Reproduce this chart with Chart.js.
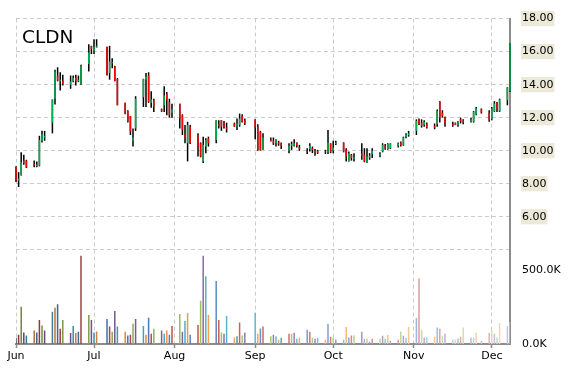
<!DOCTYPE html>
<html>
<head>
<meta charset="utf-8">
<script src="https://cdn.jsdelivr.net/npm/chart.js@4.4.1/dist/chart.umd.min.js"></script>
<style>
  html, body { margin: 0; padding: 0; background: #fff; }
</style>
</head>
<body>
<canvas id="stockChart" width="570" height="370"></canvas>
<script>
const ticker = 'CLDN';
const year = 2015;

// trading days (MM-DD)
const dates = [
  '06-01','06-02','06-03','06-04','06-05','06-08','06-09','06-10','06-11','06-12','06-15','06-16','06-17','06-18','06-19','06-22','06-23','06-24','06-25','06-26','06-29','06-30',
  '07-01','07-02','07-06','07-07','07-08','07-09','07-10','07-13','07-14','07-15','07-16','07-17','07-20','07-21','07-22','07-23','07-24','07-27','07-28','07-29','07-30','07-31',
  '08-03','08-04','08-05','08-06','08-07','08-10','08-11','08-12','08-13','08-14','08-17','08-18','08-19','08-20','08-21','08-24','08-25','08-26','08-27','08-28',
  '09-01','09-02','09-03','09-04','09-07','09-08','09-09','09-10','09-11','09-14','09-15','09-16','09-17','09-18','09-21','09-22','09-23','09-24','09-25','09-28','09-29','09-30',
  '10-01','10-02','10-05','10-06','10-07','10-08','10-09','10-12','10-13','10-14','10-15','10-16','10-19','10-20','10-21','10-22','10-23','10-26','10-27','10-28','10-29','10-30',
  '11-02','11-03','11-04','11-05','11-06','11-09','11-10','11-11','11-12','11-13','11-16','11-17','11-18','11-19','11-20','11-23','11-24','11-25','11-27','11-30',
  '12-01','12-02','12-03','12-04','12-07','12-08'
];

const opens = [
  9.0, 8.2, 8.5, 9.4, 9.4, 9.2, 9.05, 9.1, 10.6, 10.8, 11.7, 13.15, 14.55, 14.2, 14.25, 14.0, 14.2, 14.4, 14.2, 14.05, 15.25, 16.35,
  16.0, 16.25, 16.3, 14.7, 15.3, 15.1, 14.35, 12.9, 12.4, 12.1, 10.6, 11.35, 13.25, 14.3, 14.55, 12.9, 13.05, 12.5, 12.75, 13.45, 12.95, 12.3,
  12.85, 12.15, 11.0, 10.45, 11.45, 10.95, 10.45, 9.35, 10.25, 10.75, 10.65, 11.6, 11.85, 11.65, 11.4, 11.65, 11.45, 11.55, 12.1, 11.85,
  11.9, 11.45, 11.15, 10.05, 10.7, 10.6, 10.45, 10.5, 10.45, 10.0, 10.3, 10.3, 10.5, 10.2, 10.0, 10.1, 10.15, 9.9, 10.0, 9.9, 9.9, 10.45,
  10.0, 10.4, 10.5, 10.05, 9.35, 9.75, 9.5, 9.8, 9.75, 9.25, 9.6, 9.8, 9.7, 9.95, 10.3, 10.1, 10.15, 10.3, 10.5, 10.35, 10.85, 10.95,
  11.2, 11.9, 11.7, 11.55, 11.6, 11.5, 11.6, 13.0, 12.3, 12.05, 11.6, 11.7, 11.55, 11.9, 11.85, 11.75, 11.75, 12.2, 12.55, 12.3,
  11.9, 12.4, 12.9, 12.4, 13.05, 13.6
];
const highs = [
  9.05, 8.7, 9.9, 9.75, 9.45, 9.4, 9.35, 10.9, 11.2, 11.2, 13.1, 14.9, 15.05, 14.75, 14.6, 14.55, 14.55, 14.6, 14.55, 15.2, 16.45, 16.35,
  16.75, 16.75, 16.3, 16.35, 15.6, 15.15, 14.4, 12.9, 12.45, 12.1, 11.35, 13.3, 14.35, 14.7, 14.75, 13.6, 13.15, 12.55, 13.9, 13.55, 13.15, 12.85,
  12.85, 12.2, 11.55, 11.75, 11.55, 11.05, 10.5, 10.85, 10.75, 10.85, 11.85, 11.85, 11.85, 11.8, 11.7, 11.7, 11.95, 12.25, 12.2, 11.95,
  11.9, 11.6, 11.2, 11.05, 10.8, 10.8, 10.7, 10.6, 10.5, 10.45, 10.55, 10.7, 10.5, 10.35, 10.15, 10.45, 10.25, 10.1, 10.05, 10.05, 11.25, 10.45,
  10.6, 10.6, 10.5, 10.15, 9.95, 9.8, 9.85, 10.45, 10.15, 10.15, 9.85, 10.15, 9.9, 10.45, 10.4, 10.45, 10.45, 10.5, 10.55, 10.85, 11.05, 11.2,
  11.9, 11.95, 11.9, 11.85, 11.7, 11.65, 12.5, 13.0, 12.45, 12.05, 11.75, 11.7, 11.8, 12.0, 11.9, 12.0, 12.4, 12.65, 12.55, 12.45,
  12.65, 13.0, 12.95, 13.15, 13.85, 16.5
];
const lows = [
  8.1, 7.8, 8.5, 9.15, 8.95, 9.0, 9.0, 9.05, 10.5, 10.6, 11.05, 12.8, 14.2, 13.65, 13.95, 13.75, 14.15, 13.95, 14.15, 14.0, 14.8, 15.85,
  15.85, 16.25, 14.55, 14.3, 15.0, 14.2, 12.75, 12.2, 11.7, 10.95, 10.25, 11.2, 12.65, 12.65, 12.9, 12.6, 12.35, 12.35, 12.35, 12.15, 12.0, 12.0,
  11.35, 10.95, 10.45, 9.35, 10.4, 9.65, 9.6, 9.25, 9.85, 10.25, 10.45, 11.35, 11.2, 11.35, 11.1, 11.45, 11.25, 11.45, 11.7, 11.55,
  10.7, 10.0, 10.0, 10.05, 10.55, 10.35, 10.25, 10.3, 10.1, 9.85, 10.05, 10.25, 10.2, 10.0, 9.8, 9.95, 9.85, 9.7, 9.8, 9.8, 9.8, 9.85,
  9.85, 10.35, 9.9, 9.35, 9.35, 9.4, 9.35, 9.45, 9.3, 9.25, 9.45, 9.55, 9.6, 9.9, 10.05, 10.05, 10.1, 10.2, 10.25, 10.3, 10.75, 10.85,
  10.95, 11.55, 11.4, 11.45, 11.35, 11.3, 11.45, 11.7, 12.0, 11.45, 11.45, 11.55, 11.45, 11.65, 11.6, 11.7, 11.7, 12.15, 12.25, 11.75,
  11.85, 12.35, 12.35, 12.35, 12.75, 13.55
];
const closes = [
  8.2, 8.3, 9.3, 9.25, 9.0, 9.1, 9.15, 10.65, 11.0, 10.9, 13.1, 14.8, 14.25, 14.3, 14.05, 14.2, 14.4, 14.2, 14.3, 15.15, 15.95, 16.15,
  16.3, 16.35, 14.6, 15.4, 15.35, 14.2, 12.75, 12.25, 11.75, 11.15, 10.8, 13.15, 14.35, 14.5, 12.95, 13.1, 12.65, 12.4, 13.35, 13.05, 12.15, 12.5,
  11.95, 11.25, 10.8, 11.55, 10.45, 10.25, 9.65, 10.35, 10.65, 10.45, 11.85, 11.5, 11.45, 11.45, 11.3, 11.45, 11.65, 11.95, 11.75, 11.65,
  11.4, 10.05, 10.05, 10.8, 10.6, 10.45, 10.65, 10.4, 10.3, 10.3, 10.4, 10.45, 10.3, 10.1, 9.95, 10.3, 10.05, 9.95, 9.85, 9.95, 10.5, 9.9,
  10.2, 10.5, 9.95, 9.65, 9.85, 9.55, 9.6, 9.7, 9.35, 9.65, 9.7, 10.0, 9.8, 10.35, 10.15, 10.4, 10.45, 10.45, 10.35, 10.8, 11.0, 11.05,
  11.8, 11.65, 11.5, 11.75, 11.4, 11.4, 12.4, 12.0, 12.1, 11.65, 11.55, 11.55, 11.8, 11.8, 11.7, 11.9, 12.35, 12.55, 12.3, 11.85,
  12.55, 12.85, 12.5, 13.1, 13.85, 16.5
];
// volume in thousands
const volumes = [
  40, 63, 254, 79, 58, 92, 79, 164, 126, 92, 220, 247, 271, 103, 164, 74, 123, 74, 83, 601, 197, 164,
  79, 85, 170, 119, 83, 224, 119, 83, 58, 63, 137, 170, 123, 63, 179, 70, 103, 92, 70, 92, 63, 123,
  204, 83, 157, 211, 63, 130, 294, 601, 460, 197, 428, 164, 79, 70, 191, 45, 52, 146, 58, 79,
  213, 70, 106, 119, 52, 63, 52, 29, 43, 70, 70, 76, 36, 43, 97, 83, 43, 36, 43, 29, 137, 49,
  45, 30, 29, 116, 45, 58, 58, 83, 36, 36, 16, 36, 36, 56, 36, 63, 22, 29, 83, 56, 43, 116,
  177, 446, 97, 45, 45, 49, 112, 103, 56, 70, 29, 29, 38, 49, 112, 45, 45, 76, 22, 76,
  97, 70, 45, 143, 123, 150
];

const monthStarts = ['06-01', '07-01', '08-01', '09-01', '10-01', '11-01', '12-01'];
const monthLabels = ['Jun', 'Jul', 'Aug', 'Sep', 'Oct', 'Nov', 'Dec'];
const priceTicks = [4, 6, 8, 10, 12, 14, 16, 18];
const volumeTicks = [0, 500];

const volumePalette = ['#4F81BD', '#C0504D', '#9BBB59', '#8064A2', '#4BACC6', '#F79646'];
const gridColor = '#CCCCCC';
const axisColor = '#8C8C8C';
const labelFont = { family: 'DejaVu Sans', size: 11 };

function dayOffset(md) {
    const [m, d] = md.split('-').map(Number);
    return (Date.UTC(year, m - 1, d) - Date.UTC(year, 5, 1)) / 86400000;
}

// darker at the start, paler toward the end
function volumeColor(i) {
    const base = volumePalette[i % volumePalette.length];
    const t = -0.3 + 0.9 * i / (dates.length - 1);
    const rgb = [1, 3, 5].map(k => parseInt(base.slice(k, k + 2), 16));
    const out = rgb.map(c => Math.round(t < 0 ? c * (1 + t) : c + (255 - c) * t));
    return `rgb(${out.join(',')})`;
}

const xs = dates.map(dayOffset);
const monthX = monthStarts.map(dayOffset);

const titlePlugin = {
    id: 'tickerTitle',
    afterDraw(chart) {
        const ctx = chart.ctx;
        ctx.save();
        ctx.font = '18.5px "DejaVu Sans"';
        ctx.fillStyle = '#000';
        ctx.textBaseline = 'alphabetic';
        ctx.fillText(ticker, chart.chartArea.left + 6, chart.chartArea.top + 24);
        ctx.restore();
    }
};

// with grouped: false Chart.js sizes bars from the spacing, so cap them
const barWidth = 1.5;

const ctx = document.getElementById('stockChart').getContext('2d');
new Chart(ctx, {
    type: 'bar',
    data: {
        datasets: [{
            label: 'Body',
            order: 1,
            data: xs.map((x, i) => ({ x, y: [Math.min(opens[i], closes[i]), Math.max(opens[i], closes[i])] })),
            backgroundColor: c => closes[c.dataIndex] >= opens[c.dataIndex] ? '#00B050' : '#FF0000',
            maxBarThickness: barWidth,
            grouped: false,
            clip: false,
            yAxisID: 'y'
        }, {
            label: 'Range',
            order: 2,
            data: xs.map((x, i) => ({ x, y: [lows[i], highs[i]] })),
            backgroundColor: '#000000',
            maxBarThickness: barWidth,
            grouped: false,
            clip: false,
            yAxisID: 'y'
        }, {
            label: 'Volume',
            order: 3,
            data: xs.map((x, i) => ({ x, y: volumes[i] })),
            backgroundColor: c => volumeColor(c.dataIndex),
            maxBarThickness: barWidth,
            grouped: false,
            yAxisID: 'vol'
        }]
    },
    options: {
        responsive: false,
        devicePixelRatio: 1,
        animation: false,
        layout: { padding: { left: 16, top: 16, right: 0, bottom: 0 } },
        plugins: {
            legend: { display: false },
            tooltip: { enabled: false }
        },
        scales: {
            x: {
                type: 'linear',
                min: 0,
                max: 190,
                offset: false,
                afterBuildTicks: s => { s.ticks = monthX.map(v => ({ value: v })); },
                afterFit: s => { s.height = 26; },
                ticks: {
                    callback: (v, i) => monthLabels[i],
                    color: '#000',
                    font: labelFont,
                    padding: 2,
                    maxRotation: 0,
                    autoSkip: false
                },
                grid: {
                    offset: false,
                    color: gridColor,
                    drawTicks: true,
                    tickLength: 4,
                    tickColor: axisColor,
                    tickWidth: 1.5,
                    tickBorderDash: [1, 0]
                },
                border: { color: axisColor, width: 2, dash: [4, 3] }
            },
            y: {
                position: 'right',
                stack: 'main',
                stackWeight: 233,
                min: 4,
                max: 18,
                afterBuildTicks: s => { s.ticks = priceTicks.map(v => ({ value: v })); },
                afterFit: s => { s.width = 60; },
                ticks: {
                    callback: v => v < 6 ? '' : v.toFixed(2),
                    color: '#000',
                    font: labelFont,
                    padding: 12,
                    autoSkip: false,
                    showLabelBackdrop: true,
                    backdropColor: c => (c.tick && c.tick.value < 6) ? 'rgba(0,0,0,0)' : '#ECE9D8',
                    backdropPadding: { x: 1, y: 1 }
                },
                grid: { color: gridColor, drawTicks: false },
                border: { color: axisColor, width: 2, dash: [4, 3] }
            },
            vol: {
                position: 'right',
                stack: 'main',
                stackWeight: 95,
                min: 0,
                max: 641,
                afterBuildTicks: s => { s.ticks = volumeTicks.map(v => ({ value: v })); },
                afterFit: s => { s.width = 60; },
                ticks: {
                    callback: v => v.toFixed(1) + 'K',
                    color: '#000',
                    font: labelFont,
                    padding: 12,
                    autoSkip: false
                },
                grid: { display: false, drawTicks: false },
                border: { color: axisColor, width: 2 }
            }
        }
    },
    plugins: [titlePlugin]
});
</script>
</body>
</html>
